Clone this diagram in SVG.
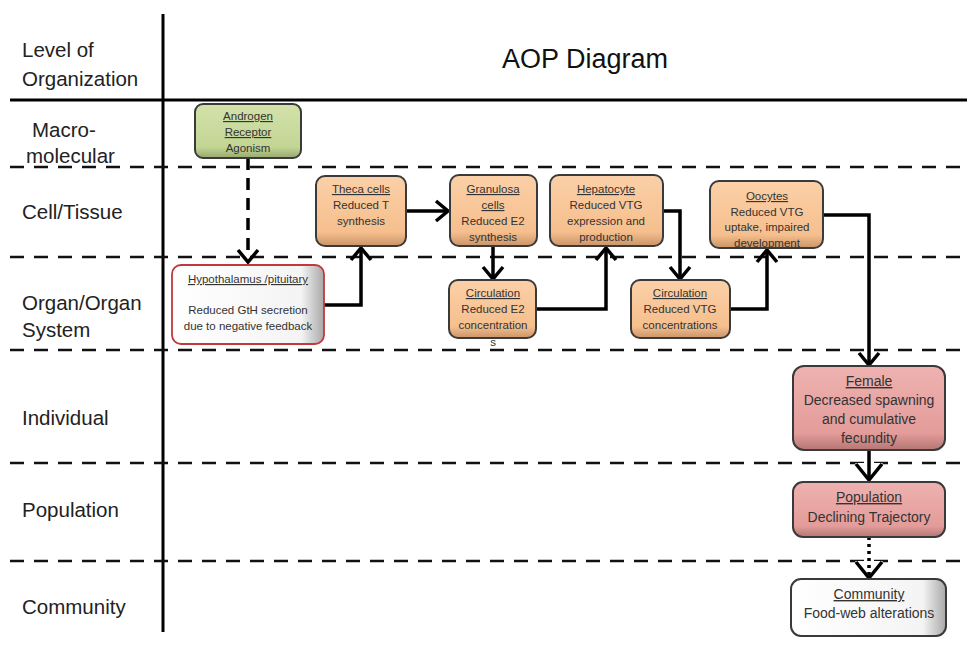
<svg xmlns="http://www.w3.org/2000/svg" width="967" height="646" viewBox="0 0 967 646">
<defs>
<style>
.lvl{font-family:"Liberation Sans",Arial,sans-serif;font-size:20.5px;fill:#222}
.t{font-family:"Liberation Sans",Arial,sans-serif;font-size:11.5px;fill:#333;text-anchor:middle}
.tl{font-family:"Liberation Sans",Arial,sans-serif;font-size:14px;fill:#333;text-anchor:middle}
.u{text-decoration:underline}
.div{stroke:#111;stroke-width:2.5;stroke-dasharray:14 10;fill:none}
.box{stroke:#3a3a3a;stroke-width:2}
.c{fill:none;stroke:#000;stroke-width:3.5;stroke-linejoin:miter}
</style>
<linearGradient id="gO" x1="0" y1="0" x2="0" y2="1"><stop offset="0" stop-color="#fbd0a8"/><stop offset="0.8" stop-color="#f6bf8d"/><stop offset="1" stop-color="#c99468"/></linearGradient>
<linearGradient id="gG" x1="0" y1="0" x2="0" y2="1"><stop offset="0" stop-color="#d3e2ab"/><stop offset="0.8" stop-color="#c2d594"/><stop offset="1" stop-color="#97a870"/></linearGradient>
<linearGradient id="gP" x1="0" y1="0" x2="0" y2="1"><stop offset="0" stop-color="#eeb2b0"/><stop offset="0.8" stop-color="#e39c9a"/><stop offset="1" stop-color="#b47674"/></linearGradient>
<linearGradient id="gW" x1="0" y1="0" x2="1" y2="0"><stop offset="0" stop-color="#ffffff"/><stop offset="0.85" stop-color="#f4f4f4"/><stop offset="1" stop-color="#a8a8a8"/></linearGradient>
</defs>
<rect width="967" height="646" fill="#fff"/>

<g id="grid">
<line x1="163" y1="14" x2="163" y2="632" stroke="#000" stroke-width="3"/>
<line x1="10" y1="100" x2="967" y2="100" stroke="#000" stroke-width="3"/>
<line class="div" x1="10" y1="167" x2="967" y2="167"/>
<line class="div" x1="10" y1="257" x2="967" y2="257"/>
<line class="div" x1="10" y1="350" x2="967" y2="350"/>
<line class="div" x1="10" y1="463" x2="967" y2="463"/>
<line class="div" x1="10" y1="561" x2="967" y2="561"/>
</g>

<g id="labels">
<text class="lvl" x="22" y="57">Level of</text>
<text class="lvl" x="22" y="86">Organization</text>
<text class="lvl" x="32" y="137">Macro-</text>
<text class="lvl" x="26" y="163">molecular</text>
<text class="lvl" x="22" y="219">Cell/Tissue</text>
<text class="lvl" x="22" y="310">Organ/Organ</text>
<text class="lvl" x="22" y="337">System</text>
<text class="lvl" x="22" y="425">Individual</text>
<text class="lvl" x="22" y="517">Population</text>
<text class="lvl" x="22" y="614">Community</text>
<text x="585" y="68" font-family="'Liberation Sans',Arial,sans-serif" font-size="27" fill="#111" text-anchor="middle">AOP Diagram</text>
</g>

<g id="connectors">
<path class="c" d="M248,158 V258" stroke-dasharray="12 8"/>
<path class="c" d="M238,250 L248,262 L258,250"/>
<path class="c" d="M324,305 H361 V249"/>
<path class="c" d="M351,260 L361,248 L371,260"/>
<path class="c" d="M406,211 H447"/>
<path class="c" d="M436,201 L448,211 L436,221"/>
<path class="c" d="M493,246 V278"/>
<path class="c" d="M483,267 L493,279 L503,267"/>
<path class="c" d="M536,309 H606 V249"/>
<path class="c" d="M596,260 L606,248 L616,260"/>
<path class="c" d="M663,211 H680 V278"/>
<path class="c" d="M670,267 L680,279 L690,267"/>
<path class="c" d="M730,309 H767 V251"/>
<path class="c" d="M757,262 L767,250 L777,262"/>
<path class="c" d="M823,215 H869 V364"/>
<path class="c" d="M859,353 L869,365 L879,353"/>
<path d="M855,463 L869,480 L883,463 Z" fill="#fff"/>
<path class="c" d="M869,450 V480"/>
<path class="c" d="M856,464 L869,480 L882,464"/>
<path d="M855,561 L869,578 L883,561 Z" fill="#fff"/>
<path class="c" d="M869,537 V576" stroke-dasharray="3 4" stroke-width="3"/>
<path class="c" d="M856,562 L869,578 L882,562"/>
</g>

<g id="n-androgen">
<rect class="box" x="195" y="104" width="106" height="54" rx="8" fill="url(#gG)"/>
<text class="t u" x="248" y="120">Androgen</text>
<text class="t u" x="248" y="136">Receptor</text>
<text class="t" x="248" y="152">Agonism</text>
</g>

<g id="n-hypothalamus">
<rect x="172" y="265" width="152" height="79" rx="9" fill="url(#gW)" stroke="#c0393f" stroke-width="1.8"/>
<text class="t u" x="248" y="283">Hypothalamus /pituitary</text>
<text class="t" x="248" y="314">Reduced GtH secretion</text>
<text class="t" x="248" y="330">due to negative feedback</text>
</g>

<g id="n-theca">
<rect class="box" x="316" y="176" width="90" height="70" rx="9" fill="url(#gO)"/>
<text class="t u" x="361" y="193">Theca cells</text>
<text class="t" x="361" y="209">Reduced T</text>
<text class="t" x="361" y="225">synthesis</text>
</g>

<g id="n-granulosa">
<rect class="box" x="450" y="175" width="87" height="71" rx="9" fill="url(#gO)"/>
<text class="t u" x="493" y="193">Granulosa</text>
<text class="t u" x="493" y="209">cells</text>
<text class="t" x="493" y="225">Reduced E2</text>
<text class="t" x="493" y="241">synthesis</text>
</g>

<g id="n-hepatocyte">
<rect class="box" x="550" y="175" width="113" height="71" rx="9" fill="url(#gO)"/>
<text class="t u" x="606" y="193">Hepatocyte</text>
<text class="t" x="606" y="209">Reduced VTG</text>
<text class="t" x="606" y="225">expression and</text>
<text class="t" x="606" y="241">production</text>
</g>

<g id="n-oocytes">
<rect class="box" x="710" y="181" width="113" height="67" rx="9" fill="url(#gO)"/>
<text class="t u" x="767" y="200">Oocytes</text>
<text class="t" x="767" y="216">Reduced VTG</text>
<text class="t" x="767" y="231">uptake, impaired</text>
<text class="t" x="767" y="247">development</text>
</g>

<g id="n-circ-e2">
<rect class="box" x="449" y="280" width="87" height="58" rx="9" fill="url(#gO)"/>
<text class="t u" x="493" y="297">Circulation</text>
<text class="t" x="493" y="313">Reduced E2</text>
<text class="t" x="493" y="329">concentration</text>
<text class="t" x="493" y="346" font-size="9">s</text>
</g>

<g id="n-circ-vtg">
<rect class="box" x="631" y="280" width="99" height="58" rx="9" fill="url(#gO)"/>
<text class="t u" x="680" y="297">Circulation</text>
<text class="t" x="680" y="313">Reduced VTG</text>
<text class="t" x="680" y="329">concentrations</text>
</g>

<g id="n-female">
<rect class="box" x="793" y="366" width="152" height="84" rx="11" fill="url(#gP)"/>
<text class="tl u" x="869" y="386">Female</text>
<text class="tl" x="869" y="405">Decreased spawning</text>
<text class="tl" x="869" y="424">and cumulative</text>
<text class="tl" x="869" y="443">fecundity</text>
</g>

<g id="n-population">
<rect class="box" x="793" y="482" width="152" height="55" rx="10" fill="url(#gP)"/>
<text class="tl u" x="869" y="502">Population</text>
<text class="tl" x="869" y="522">Declining Trajectory</text>
</g>

<g id="n-community">
<rect class="box" x="791" y="579" width="155" height="57" rx="10" fill="url(#gW)"/>
<text class="tl u" x="869" y="599">Community</text>
<text class="tl" x="869" y="618">Food-web alterations</text>
</g>
</svg>
